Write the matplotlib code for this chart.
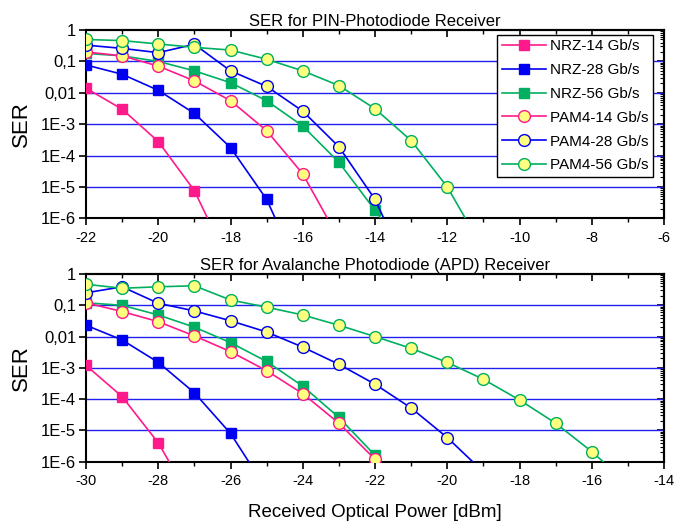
import matplotlib
matplotlib.use('Agg')
import matplotlib.pyplot as plt
import numpy as np
from matplotlib.ticker import LogLocator, FixedLocator, MultipleLocator

plt.rcParams['font.family'] = ['Liberation Sans', 'DejaVu Sans']
plt.rcParams['axes.unicode_minus'] = False

# ---- PIN receiver (top)
pin_x = [-22, -21, -20, -19, -18, -17, -16, -15, -14, -13, -12, -11]
pin_nrz14 = [1.4e-2, 3.0e-3, 2.8e-4, 7.6e-6, 3e-8]
pin_nrz28 = [7.7e-2, 3.9e-2, 1.2e-2, 2.2e-3, 1.8e-4, 4.0e-6, 1.2e-8]
pin_nrz56 = [0.18, 0.15, 0.10, 5.0e-2, 2.1e-2, 5.6e-3, 8.7e-4, 6.1e-5, 1.8e-6, 5e-8]
pin_pam14 = [0.20, 0.15, 7.1e-2, 2.4e-2, 5.6e-3, 6.2e-4, 2.6e-5, 2.2e-7]
pin_pam28 = [0.33, 0.26, 0.19, 0.35, 5.0e-2, 1.6e-2, 2.6e-3, 1.9e-4, 4.0e-6, 1.3e-8]
pin_pam56 = [0.50, 0.46, 0.36, 0.28, 0.23, 0.117, 5.0e-2, 1.7e-2, 3.1e-3, 3.0e-4, 1.0e-5, 1e-7]

# ---- APD receiver (bottom)
apd_x = [-30, -29, -28, -27, -26, -25, -24, -23, -22, -21, -20, -19, -18, -17, -16, -15]
apd_nrz14 = [1.2e-3, 1.2e-4, 4.0e-6, 4e-8]
apd_nrz28 = [2.3e-2, 7.8e-3, 1.5e-3, 1.6e-4, 8.0e-6, 1.3e-7]
apd_nrz56 = [0.12, 0.10, 4.9e-2, 2.0e-2, 6.4e-3, 1.6e-3, 2.6e-4, 2.6e-5, 1.6e-6]
apd_pam14 = [0.12, 6.3e-2, 3.0e-2, 1.05e-2, 3.3e-3, 8.1e-4, 1.5e-4, 1.7e-5, 1.2e-6]
apd_pam28 = [0.25, 0.39, 0.116, 6.6e-2, 3.2e-2, 1.4e-2, 4.6e-3, 1.3e-3, 3.0e-4, 5.2e-5, 5.9e-6, 4.7e-7]
apd_pam56 = [0.47, 0.35, 0.39, 0.42, 0.148, 8.7e-2, 4.9e-2, 2.3e-2, 1.0e-2, 4.2e-3, 1.5e-3,
             4.3e-4, 9.4e-5, 1.7e-5, 2.1e-6, 2e-7]

labels = ['NRZ-14 Gb/s', 'NRZ-28 Gb/s', 'NRZ-56 Gb/s',
          'PAM4-14 Gb/s', 'PAM4-28 Gb/s', 'PAM4-56 Gb/s']
pink = '#FF1A8C'
blue = '#0000F0'
green = '#00B060'
yellow = '#FFFF80'
colors = [pink, blue, green, pink, blue, green]
markers = ['s', 's', 's', 'o', 'o', 'o']

ytick_vals = [1e-6, 1e-5, 1e-4, 1e-3, 1e-2, 1e-1, 1]
ytick_lbls = ['1E-6', '1E-5', '1E-4', '1E-3', '0,01', '0,1', '1']

fig = plt.figure(figsize=(6.74, 5.23), dpi=100)
ax1 = fig.add_axes([0.1276, 0.5826, 0.8576, 0.360])
ax2 = fig.add_axes([0.1276, 0.1172, 0.8576, 0.3589])


def draw(ax, x, series, xlim):
    for i, y in enumerate(series):
        c = colors[i]
        if markers[i] == 's':
            ax.plot(x[:len(y)], y, color=c, lw=1.2, marker='s', ms=7.5,
                    mfc=c, mec=c, label=labels[i], zorder=3)
        else:
            ax.plot(x[:len(y)], y, color=c, lw=1.2, marker='o', ms=8.5,
                    mfc=yellow, mec=c, mew=1.0, label=labels[i], zorder=3)
    ax.set_yscale('log')
    ax.set_ylim(1e-6, 1)
    ax.set_xlim(*xlim)
    for v in ytick_vals[1:-1]:
        ax.axhline(v, color='#2020F0', lw=1.0, zorder=1)
    ax.yaxis.set_major_locator(FixedLocator(ytick_vals))
    ax.set_yticklabels(ytick_lbls)
    ax.yaxis.set_minor_locator(LogLocator(base=10, subs=np.arange(2, 10)))
    ax.yaxis.set_minor_formatter(plt.NullFormatter())
    ax.xaxis.set_major_locator(MultipleLocator(2))
    ax.xaxis.set_minor_locator(MultipleLocator(1))
    ax.tick_params(axis='x', which='major', direction='out', length=5, width=1.2,
                   labelsize=10.5, pad=4)
    ax.tick_params(axis='x', which='minor', direction='out', length=3, width=1.0)
    ax.tick_params(axis='y', which='major', direction='out', length=5, width=1.2,
                   labelsize=12, pad=2)
    ax.tick_params(axis='y', which='minor', direction='inout', length=5, width=0.8)
    # inward ticks on top and right
    top = ax.secondary_xaxis('top')
    top.xaxis.set_major_locator(MultipleLocator(2))
    top.xaxis.set_minor_locator(MultipleLocator(1))
    top.tick_params(which='major', direction='in', length=5, width=1.2, labeltop=False)
    top.tick_params(which='minor', direction='in', length=3, width=1.0)
    right = ax.secondary_yaxis('right')
    right.yaxis.set_major_locator(FixedLocator(ytick_vals))
    right.yaxis.set_minor_locator(LogLocator(base=10, subs=np.arange(2, 10)))
    right.tick_params(which='major', direction='in', length=5, width=1.2, labelright=False)
    right.tick_params(which='minor', direction='in', length=3, width=0.8, labelright=False)
    for s in ax.spines.values():
        s.set_linewidth(1.5)
    top.spines['top'].set_linewidth(1.5)
    right.spines['right'].set_linewidth(1.5)
    ax.set_ylabel('SER', fontsize=16, labelpad=6.5)


draw(ax1, pin_x, [pin_nrz14, pin_nrz28, pin_nrz56, pin_pam14, pin_pam28, pin_pam56], (-22, -6))
draw(ax2, apd_x, [apd_nrz14, apd_nrz28, apd_nrz56, apd_pam14, apd_pam28, apd_pam56], (-30, -14))

ax1.set_title('SER for PIN-Photodiode Receiver', fontsize=12, pad=3)
ax2.set_title('SER for Avalanche Photodiode (APD) Receiver', fontsize=12, pad=3)
ax2.set_xlabel('Received Optical Power [dBm]', fontsize=13.5, labelpad=11.5)

leg = ax1.legend(loc='upper right', bbox_to_anchor=(0.9810, 0.974), fontsize=11,
                 frameon=True, fancybox=False, edgecolor='black', framealpha=1,
                 handlelength=2.9, borderpad=0.3, labelspacing=0.64, handletextpad=0.25,
                 borderaxespad=0.0)
leg.get_frame().set_linewidth(1.0)

fig.savefig('out.png', dpi=100)
